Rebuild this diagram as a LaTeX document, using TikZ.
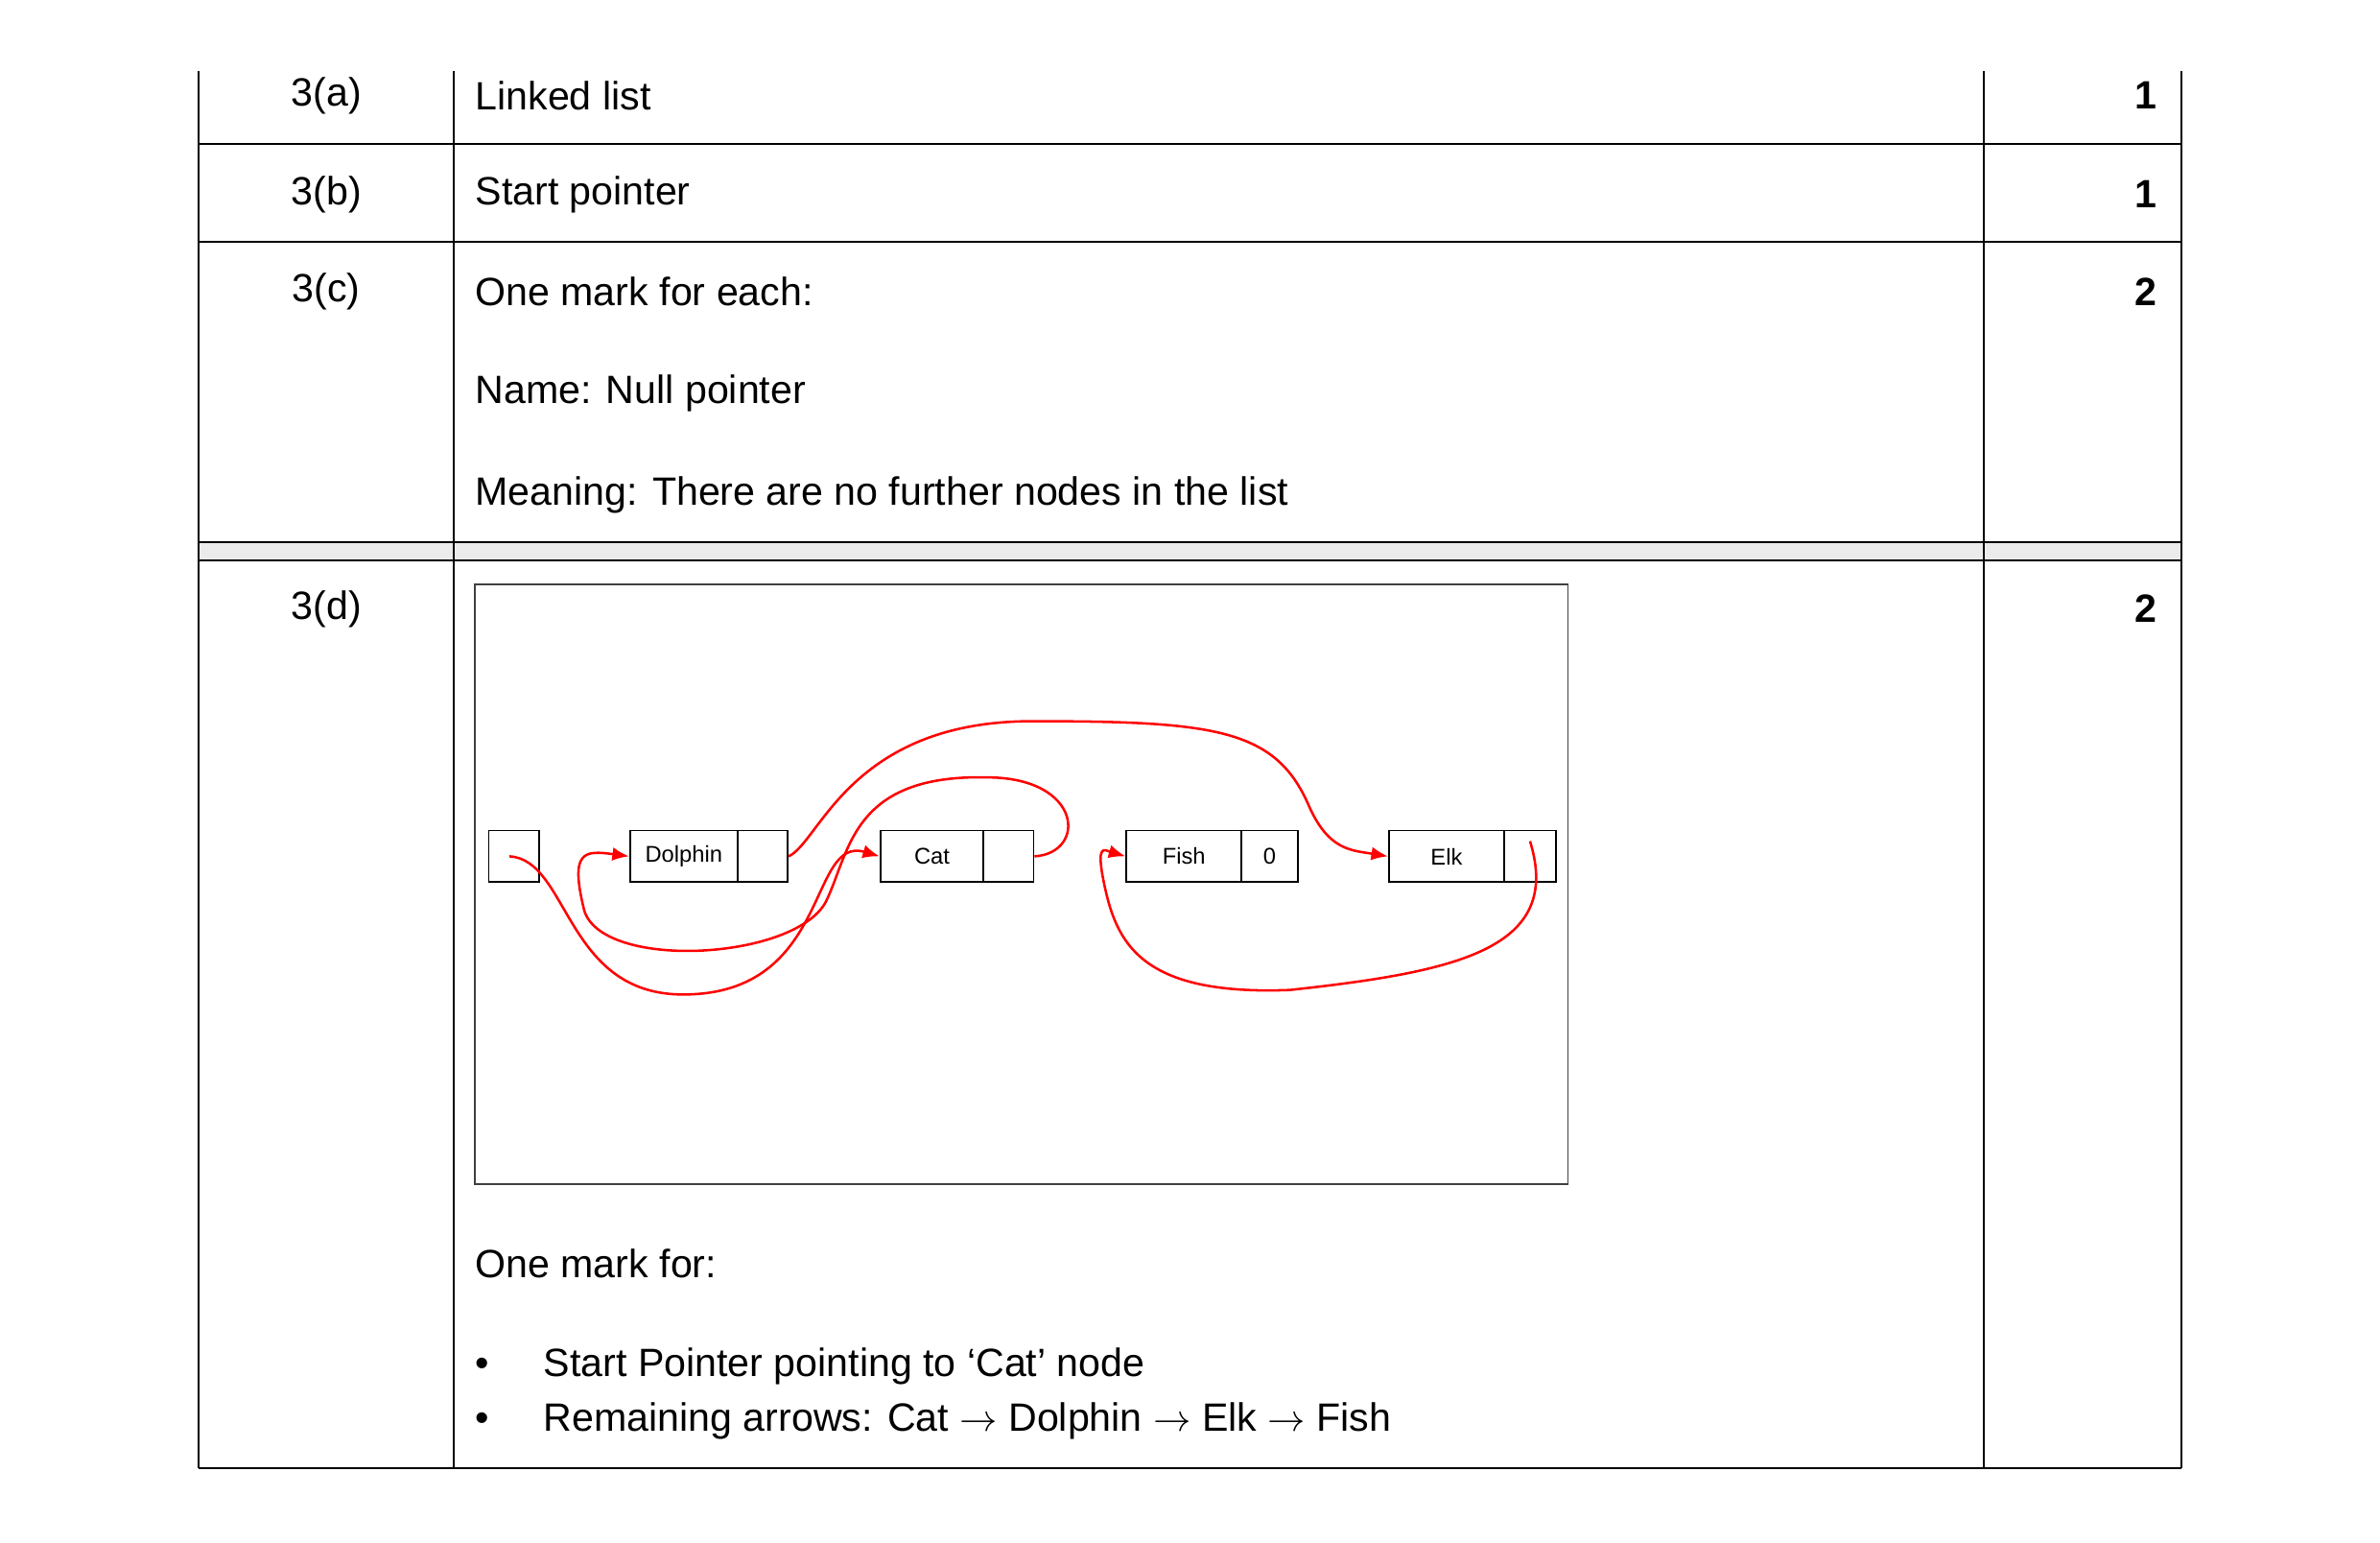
\documentclass[tikz,border=0pt]{standalone}
\usepackage{fontspec}
\setmainfont{Liberation Sans}
\usetikzlibrary{arrows.meta}
\newcommand*{\bigtext}{\fontsize{26}{30}\selectfont}
\newcommand*{\smalltext}{\fontsize{15}{18}\selectfont}
\begin{document}
\begin{tikzpicture}
        [x=1pt,y=-1pt,
          rule/.style={line width=1.2pt},
          txt/.style={anchor=west,inner sep=0pt,font=\bigtext},
          score/.style={anchor=east,inner sep=0pt,font=\bigtext\bfseries},
          part/.style={inner sep=0pt,font=\bigtext},
          cell/.style={draw,line width=1.1pt,minimum height=34pt,inner sep=0pt,font=\smalltext},
          link/.style={draw=red,line width=1.6pt,-{Latex[length=11pt,width=9pt]}}]
        \useasboundingbox (0,0) rectangle (1568,1016);
        %% table rules
        \fill[black!8] (131,357) rectangle (1437,369);
        \draw[rule] (131,47) -- (131,967) (299,47) -- (299,967)
          (1307,47) -- (1307,967) (1437,47) -- (1437,967);
        \foreach \y in {95, 159, 357, 369, 967}
        {
          \draw[rule] (131,\y) -- (1437,\y);
        }
        %% parts and marks
        \foreach \name/\y/\lbl/\mk in {pa/63/3(a)/1, pb/128/3(b)/1, pc/192/3(c)/2, pd/401/3(d)/2}
        {
          \node[part] (\name) at (215,\y) {\lbl};
          \node[score] (\name mark) at (1421,\y) {\mk};
        }
        %% answers
        \node[txt] (ansa) at (313,63) {Linked list};
        \node[txt] (ansb) at (313,128) {Start pointer};
        \node[txt] (ansc) at (313,192) {One mark for each:};
        \node[txt] (name) at (313,259) {Name: Null pointer};
        \node[txt] (meaning) at (313,326) {Meaning: There are no further nodes in the list};
        \node[txt] (onemark) at (313,832) {One mark for:};
        \node[txt] (bulleta) at (313,900) {\textbullet\hspace{36pt}Start Pointer pointing to ‘Cat’ node};
        \node[txt] (bulletb) at (313,936) {\textbullet\hspace{36pt}Remaining arrows: Cat $\rightarrow$ Dolphin $\rightarrow$ Elk $\rightarrow$ Fish};
        %% diagram frame
        \draw[line width=1pt,black!75] (313,385) rectangle (1033,780);
        %% list nodes
        \node[cell,minimum width=33pt] (start) at (338.5,564) {};
        \foreach \name/\xa/\xb/\xc/\lbl/\ptr in {dolphin/415/486/519/Dolphin/{}, cat/580/648/681/Cat/{},
          fish/742/818/855/Fish/0, elk/915/991/1025/Elk/{}}
        {
          \node[cell,minimum width={\xb-\xa}] (\name) at ({(\xa+\xb)/2},564) {\lbl};
          \node[cell,minimum width={\xc-\xb}] (\name ptr) at ({(\xb+\xc)/2},564) {\ptr};
        }
        %% pointers
        \path[link] ([xshift=-3pt]start.center) .. controls (375,566) and (372,655) .. (450,655)
          .. controls (548,655) and (532,550) .. (cat.west);
        \path[link] (catptr.east) .. controls (716,562) and (714,512) .. (650,512)
          .. controls (562,510) and (560,560) .. (545,592)
          .. controls (528,632) and (398,640) .. (385,600)
          .. controls (375,560) and (385,560) .. (dolphin.west);
        \path[link] (dolphinptr.east) .. controls (540,555) and (560,475) .. (680,475)
          .. controls (800,475) and (840,480) .. (862,530)
          .. controls (875,560) and (890,560) .. (elk.west);
        \path[link] ([yshift=10pt]elkptr.center) .. controls (1030,625) and (960,640) .. (850,652)
          .. controls (750,656) and (735,620) .. (727,580)
          .. controls (722,555) and (728,560) .. (fish.west);
\end{tikzpicture}
\end{document}
